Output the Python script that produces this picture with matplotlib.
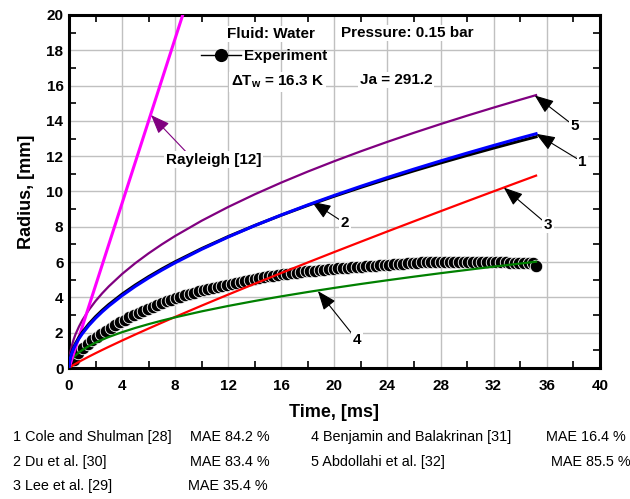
import numpy as np
import matplotlib.pyplot as plt
from matplotlib.lines import Line2D

plt.rcParams['font.family'] = ['Liberation Sans', 'DejaVu Sans']
plt.rcParams['mathtext.fontset'] = 'custom'
plt.rcParams['mathtext.rm'] = 'Liberation Sans:bold'
plt.rcParams['mathtext.it'] = 'Liberation Sans:bold'
plt.rcParams['mathtext.bf'] = 'Liberation Sans:bold'

# experiment (bubble radius, mm) vs time (ms)
exp_t = [0.0, 0.35, 0.7, 1.05, 1.4, 1.75, 2.1, 2.45, 2.8, 3.15, 3.5, 3.85, 4.2, 4.55, 4.9,
         5.25, 5.6, 5.95, 6.3, 6.65, 7.0, 7.35, 7.7, 8.05, 8.4, 8.75, 9.1, 9.45, 9.8,
         10.15, 10.5, 10.85, 11.2, 11.55, 11.9, 12.25, 12.6, 12.95, 13.3, 13.65, 14.0,
         14.35, 14.7, 15.05, 15.4, 15.75, 16.1, 16.45, 16.8, 17.15, 17.5, 17.85, 18.2,
         18.55, 18.9, 19.25, 19.6, 19.95, 20.3, 20.65, 21.0, 21.35, 21.7, 22.05, 22.4,
         22.75, 23.1, 23.45, 23.8, 24.15, 24.5, 24.85, 25.2, 25.55, 25.9, 26.25, 26.6,
         26.95, 27.3, 27.65, 28.0, 28.35, 28.7, 29.05, 29.4, 29.75, 30.1, 30.45, 30.8,
         31.15, 31.5, 31.85, 32.2, 32.55, 32.9, 33.25, 33.6, 33.95, 34.3, 34.65, 35.0, 35.2]
exp_r = [0.0, 0.45, 0.85, 1.15, 1.38, 1.58, 1.77, 1.95, 2.12, 2.28, 2.45, 2.6, 2.74, 2.87, 3.0,
         3.13, 3.25, 3.37, 3.48, 3.59, 3.69, 3.79, 3.88, 3.96, 4.04, 4.12, 4.2, 4.27, 4.34,
         4.41, 4.48, 4.54, 4.6, 4.66, 4.72, 4.78, 4.84, 4.9, 4.95, 5.0, 5.05,
         5.1, 5.15, 5.2, 5.24, 5.28, 5.32, 5.35, 5.38, 5.41, 5.44, 5.47, 5.5,
         5.52, 5.55, 5.57, 5.6, 5.62, 5.64, 5.66, 5.68, 5.7, 5.72, 5.74, 5.76,
         5.78, 5.8, 5.82, 5.84, 5.86, 5.88, 5.9, 5.92, 5.93, 5.95, 5.96, 5.98,
         5.99, 6.0, 6.01, 6.02, 6.02, 6.03, 6.03, 6.03, 6.03, 6.03, 6.02, 6.02,
         6.01, 6.0, 6.0, 5.99, 5.98, 5.98, 5.97, 5.97, 5.97, 5.97, 5.96, 5.95, 5.8]

# model curves
mod_t = [0, 0.05, 0.1, 0.2, 0.35, 0.5, 0.75, 1, 1.5, 2, 2.5, 3, 4, 5, 6, 7, 8, 10, 12,
         14, 16, 18, 20, 22, 24, 26, 28, 30, 32, 34, 35.2]
cole_r = [0, 0.419, 0.603, 0.868, 1.164, 1.404, 1.737, 2.02, 2.499, 2.907, 3.268, 3.596,
          4.183, 4.702, 5.175, 5.611, 6.018, 6.766, 7.446, 8.074, 8.66, 9.213, 9.736,
          10.236, 10.714, 11.174, 11.617, 12.046, 12.461, 12.865, 13.1]
du_r = [0, 0.385, 0.56, 0.813, 1.101, 1.334, 1.661, 1.94, 2.415, 2.821, 3.182, 3.511,
        4.101, 4.627, 5.105, 5.548, 5.963, 6.727, 7.422, 8.067, 8.67, 9.24, 9.78,
        10.296, 10.793, 11.269, 11.729, 12.174, 12.606, 13.027, 13.271]
lee_r = [0, 0.031, 0.057, 0.107, 0.176, 0.242, 0.348, 0.45, 0.647, 0.837, 1.022, 1.203,
         1.556, 1.9, 2.237, 2.568, 2.894, 3.534, 4.16, 4.775, 5.382, 5.98, 6.572,
         7.156, 7.737, 8.311, 8.881, 9.447, 10.008, 10.566, 10.899]
benj_r = [0, 0.227, 0.321, 0.454, 0.6, 0.718, 0.879, 1.015, 1.243, 1.435, 1.605, 1.758,
          2.03, 2.27, 2.486, 2.686, 2.871, 3.21, 3.516, 3.798, 4.06, 4.306, 4.539,
          4.761, 4.972, 5.175, 5.371, 5.559, 5.742, 5.918, 6.022]
abdo_r = [0, 0.622, 0.874, 1.227, 1.614, 1.923, 2.345, 2.7, 3.293, 3.792, 4.23, 4.625,
          5.326, 5.941, 6.496, 7.006, 7.48, 8.344, 9.123, 9.84, 10.505, 11.129, 11.718,
          12.279, 12.814, 13.326, 13.819, 14.294, 14.753, 15.198, 15.459]
ray_t = [0, 9.0]
ray_r = [0, 21.0]

mae_rows = [('1 Cole and Shulman [28]', 'MAE 84.2 %'),
            ('2 Du et al. [30]', 'MAE 83.4 %'),
            ('3 Lee et al. [29]', 'MAE 35.4 %'),
            ('4 Benjamin and Balakrinan [31]', 'MAE 16.4 %'),
            ('5 Abdollahi et al. [32]', 'MAE 85.5 %')]

fig = plt.figure(figsize=(6.3, 4.99), dpi=100)
ax = fig.add_axes([0.1095, 0.2625, 0.8425, 0.7075])

ax.plot(exp_t, exp_r, 'o', color='black', ms=9, mec='white', mew=0.6, zorder=2)
ax.plot(mod_t, lee_r, color='red', lw=1.6, zorder=3)
ax.plot(mod_t, benj_r, color='#008000', lw=1.6, zorder=3)
ax.plot(mod_t, abdo_r, color='#800080', lw=1.6, zorder=3)
ax.plot(ray_t, ray_r, color='#ff00ff', lw=2.2, zorder=3)
ax.plot(mod_t, cole_r, color='black', lw=2.2, zorder=3)
ax.plot(mod_t, du_r, color='blue', lw=2.2, zorder=4)

ax.set_xlim(0, 40)
ax.set_ylim(0, 20)
ax.set_xticks(np.arange(0, 41, 4))
ax.set_yticks(np.arange(0, 21, 2))
ax.set_xticks(np.arange(2, 40, 4), minor=True)
ax.set_yticks(np.arange(1, 20, 2), minor=True)
ax.grid(True, which='major', color='#c0c0c0', lw=1.0)
ax.set_axisbelow(True)
ax.tick_params(which='major', length=0, labelsize=11)
ax.tick_params(axis='x', which='major', pad=8)
ax.tick_params(axis='y', which='major', pad=4)
ax.tick_params(which='minor', direction='in', length=5, width=1.2,
               top=True, right=True, bottom=True, left=True)
for lab in ax.get_xticklabels() + ax.get_yticklabels():
    lab.set_fontweight('bold')
for sp in ax.spines.values():
    sp.set_linewidth(2.2)

ax.set_xlabel('Time, [ms]', fontsize=13, fontweight='bold', labelpad=8)
ax.set_ylabel('Radius, [mm]', fontsize=13, fontweight='bold', labelpad=8)

box = dict(facecolor='white', edgecolor='none', pad=1)
ax.text(0.2976, 0.946, 'Fluid: Water', transform=ax.transAxes, fontsize=11,
        fontweight='bold', va='center', bbox=box)
ax.text(0.512, 0.949, 'Pressure: 0.15 bar', transform=ax.transAxes, fontsize=11,
        fontweight='bold', va='center', bbox=box)
ax.text(0.305, 0.81, r'$\Delta$T$_\mathregular{w}$ = 16.3 K', transform=ax.transAxes,
        fontsize=11, fontweight='bold', va='center', bbox=box)
ax.text(0.548, 0.816, 'Ja = 291.2', transform=ax.transAxes, fontsize=11,
        fontweight='bold', va='center', bbox=box)

h = Line2D([], [], color='black', lw=1.0, marker='o', ms=8.5)
leg = ax.legend([h], ['Experiment'], loc='center left', bbox_to_anchor=(0.2486, 0.884),
                frameon=False, borderpad=0, borderaxespad=0, handlelength=2.65,
                handletextpad=0.2, numpoints=1, prop={'weight': 'bold', 'size': 11})

arr_k = dict(arrowstyle='-|>,head_length=0.9,head_width=0.35', color='black', lw=0.8,
             shrinkA=0, shrinkB=0, mutation_scale=13)
arr_p = dict(arr_k, color='#800080', relpos=(0.22, 1.0))
ax.annotate('Rayleigh [12]', xy=(6.18, 14.33), xytext=(10.9, 11.8), fontsize=11,
            fontweight='bold', ha='center', va='center', bbox=box, arrowprops=arr_p)
notes = [('5', (35.1, 15.44), (38.1, 13.7)),
         ('1', (35.2, 13.27), (38.7, 11.67)),
         ('3', (32.77, 10.22), (36.1, 8.1)),
         ('2', (18.3, 9.42), (20.8, 8.2)),
         ('4', (18.76, 4.36), (21.7, 1.59))]
for lbl, tip, pos in notes:
    ax.annotate(lbl, xy=tip, xytext=pos, fontsize=11, fontweight='bold',
                ha='center', va='center', bbox=box, arrowprops=arr_k)

rows_y = [0.124, 0.074, 0.026]
for i, (name, mae) in enumerate(mae_rows[:3]):
    fig.text(0.02, rows_y[i], name, fontsize=10.4, va='center')
    fig.text([0.302, 0.302, 0.299][i], rows_y[i], mae, fontsize=10.4, va='center')
for i, (name, mae) in enumerate(mae_rows[3:]):
    fig.text(0.494, rows_y[i], name, fontsize=10.4, va='center')
    fig.text([0.866, 0.874][i], rows_y[i], mae, fontsize=10.4, va='center')

fig.savefig('out.png', dpi=100)
